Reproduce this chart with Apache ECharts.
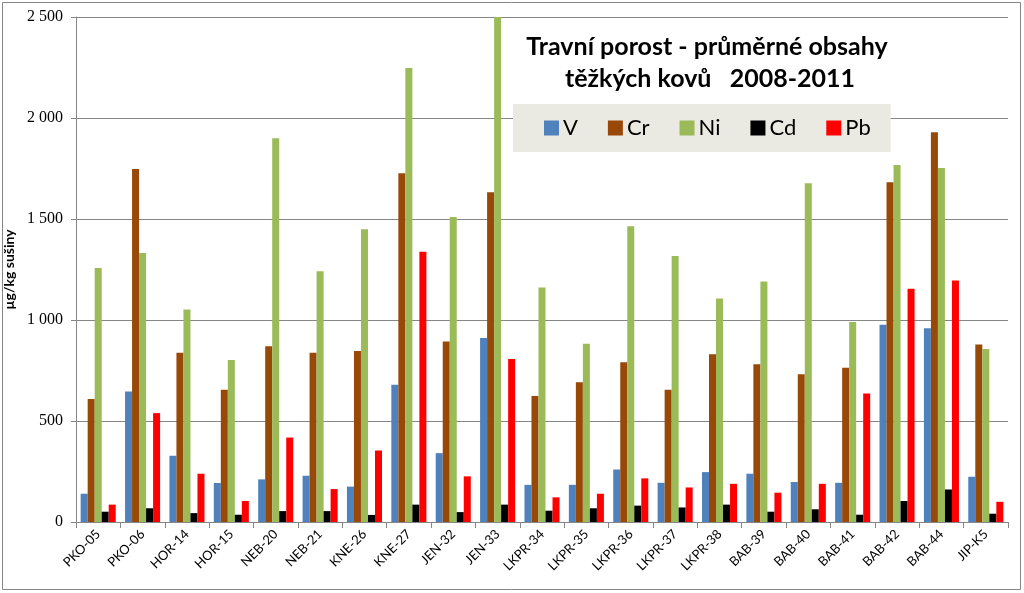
<!DOCTYPE html>
<html>
<head>
<meta charset="utf-8">
<script src="https://cdn.jsdelivr.net/npm/echarts@6/dist/echarts.min.js"></script>
<style>
  html, body { margin: 0; padding: 0; background: #fff; }
  #chartMain { width: 1024px; height: 593px; }
</style>
</head>
<body>
<div id="chartMain"></div>
<script>
// kategorie (lokality)
var categories = ['PKO-05', 'PKO-06', 'HOR-14', 'HOR-15', 'NEB-20', 'NEB-21', 'KNE-26', 'KNE-27', 'JEN-32', 'JEN-33',
  'LKPR-34', 'LKPR-35', 'LKPR-36', 'LKPR-37', 'LKPR-38', 'BAB-39', 'BAB-40', 'BAB-41', 'BAB-42', 'BAB-44', 'JIP-K5'];
var seriesNames = ['V', 'Cr', 'Ni', 'Cd', 'Pb'];
var colors = ['#4F81BD', '#984807', '#9BBB59', '#000000', '#FF0000'];

// hodnoty (µg/kg sušiny)
var vValues  = [140, 646, 328, 193, 211, 229, 175, 680, 341, 911, 184, 184, 260, 194, 247, 239, 198, 194, 977, 959, 224];
var crValues = [609, 1748, 838, 655, 870, 838, 847, 1727, 893, 1633, 624, 692, 791, 655, 830, 781, 731, 763, 1682, 1929, 879];
var niValues = [1257, 1332, 1052, 802, 1900, 1241, 1449, 2248, 1510, 2500, 1161, 883, 1464, 1317, 1107, 1190, 1677, 990, 1767, 1752, 856];
var cdValues = [51, 68, 44, 36, 54, 54, 35, 86, 49, 86, 56, 68, 81, 72, 86, 51, 63, 36, 104, 161, 41];
var pbValues = [86, 539, 239, 104, 418, 163, 354, 1338, 226, 807, 122, 140, 216, 171, 189, 145, 189, 636, 1155, 1196, 100];

var yTicks = [0, 500, 1000, 1500, 2000, 2500];

var chart = echarts.init(document.getElementById('chartMain'));

function fmt(v) {
  // mezera jako oddělovač tisíců
  return String(v).replace(/\B(?=(\d{3})+(?!\d))/g, ' ');
}

var allValues = [vValues, crValues, niValues, cdValues, pbValues];
var series = [];
for (var i = 0; i < seriesNames.length; i++) {
  series.push({
    name: seriesNames[i],
    type: 'bar',
    data: allValues[i],
    barGap: '0%',
    barCategoryGap: '21%',
    itemStyle: { color: colors[i] }
  });
}

var option = {
  backgroundColor: '#ffffff',
  animation: false,
  color: colors,
  title: {
    text: 'Travní porost - průměrné obsahy\n těžkých kovů   2008-2011',
    left: 702,
    top: 26,
    textAlign: 'center',
    textStyle: {
      fontFamily: 'Lato',
      fontSize: 25,
      fontWeight: 'bold',
      color: '#000',
      lineHeight: 32,
      align: 'center'
    }
  },
  legend: {
    data: seriesNames,
    left: 513,
    top: 104,
    width: 381,
    backgroundColor: '#EBEAE2',
    padding: [13, 20, 13, 31],
    itemWidth: 15,
    itemHeight: 15,
    itemGap: 30,
    icon: 'rect',
    textStyle: { fontFamily: 'Lato', fontSize: 22, color: '#000', padding: [0, 0, 0, -1] }
  },
  grid: { left: 76, right: 16, top: 17, bottom: 71, containLabel: false, outerBoundsMode: 'none' },
  xAxis: {
    type: 'category',
    data: categories,
    axisLine: { lineStyle: { color: '#868686' } },
    axisTick: { show: true, length: 6, lineStyle: { color: '#868686' } },
    axisLabel: {
      rotate: 45,
      interval: 0,
      margin: 10,
      fontFamily: 'Lato',
      fontSize: 13,
      color: '#000'
    }
  },
  yAxis: {
    type: 'value',
    min: 0,
    max: 2500,
    interval: 500,
    name: 'µg/kg sušiny',
    nameLocation: 'middle',
    nameRotate: 90,
    nameGap: 54,
    nameTextStyle: { fontFamily: 'Lato', fontSize: 14, fontWeight: 'bold', color: '#000' },
    axisLine: { show: true, lineStyle: { color: '#868686' } },
    axisTick: { show: true, length: 5, lineStyle: { color: '#868686' } },
    splitLine: { lineStyle: { color: '#868686', width: 1 } },
    axisLabel: {
      margin: 13,
      fontFamily: 'Liberation Serif',
      fontSize: 16,
      color: '#000',
      formatter: function (v) { return yTicks.indexOf(v) >= 0 ? fmt(v) : ''; }
    }
  },
  graphic: [{
    type: 'rect',
    shape: { x: 2.5, y: 2.5, width: 1018, height: 587 },
    style: { fill: 'none', stroke: '#868686', lineWidth: 1 },
    silent: true
  }],
  series: series
};

chart.setOption(option, true);
</script>
</body>
</html>
